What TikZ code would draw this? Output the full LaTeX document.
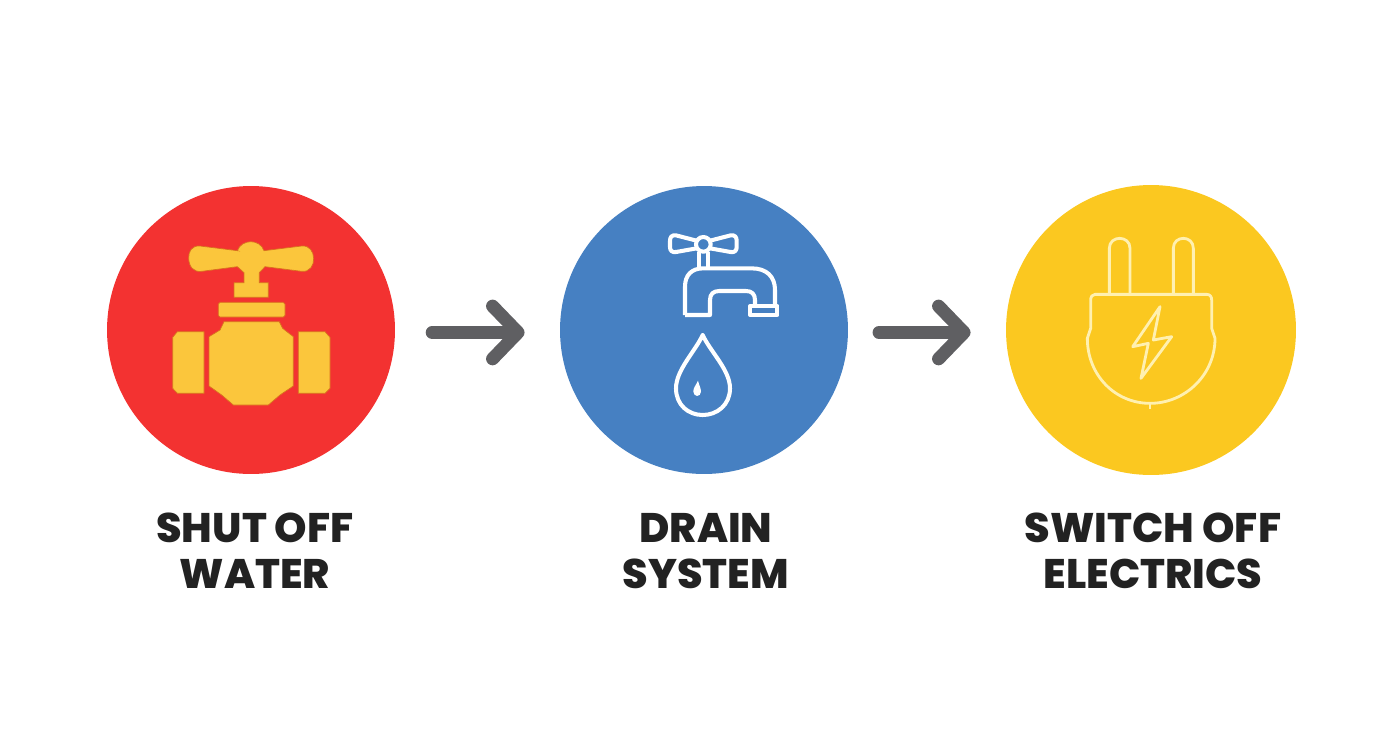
\documentclass[tikz,border=0pt]{standalone}
\usepackage{fontspec}
\setmainfont{Poppins}[BoldFont={Poppins ExtraBold}]
\usepackage{xcolor}
\usetikzlibrary{arrows.meta}
\definecolor{valvered}{HTML}{F33231}
\definecolor{drainblue}{HTML}{4680C2}
\definecolor{plugyellow}{HTML}{FBC820}
\definecolor{valvegold}{HTML}{FBC63C}
\definecolor{valveedge}{HTML}{D9701F}
\definecolor{plugline}{HTML}{FFF0B0}
\definecolor{arrowgrey}{HTML}{5F5F62}
\definecolor{labelblack}{HTML}{222222}
\tikzset{
	stepcircle/.style={circle,minimum size=5.76cm,inner sep=0pt},
	steplabel/.style={align=center,text=labelblack,font=\fontsize{23.5}{26}\selectfont\bfseries},
	steparrow/.style={-{Straight Barb[length=14.5pt,width=30pt,round]},line width=7.4pt,line cap=round,arrowgrey},
	valvepart/.style={fill=valvegold,draw=valveedge,line width=0.4pt},
	tapline/.style={draw=white,line width=2.3pt,line join=round},
	plugpart/.style={draw=plugline,line width=1.6pt,line join=round}
}
\begin{document}
\begin{tikzpicture}[x=0.02cm,y=-0.02cm]
	\useasboundingbox (0,0) rectangle (1392,752);
	\node[stepcircle,fill=valvered] (shutcircle) at (251,330) {};
	\node[stepcircle,fill=drainblue] (draincircle) at (704,330) {};
	\node[stepcircle,fill=plugyellow,minimum size=5.8cm] (switchcircle) at (1151,330) {};
	\draw[steparrow,shorten <=21pt,shorten >=20pt] ([yshift=-1.4pt]shutcircle.east) -- ([yshift=-1.4pt]draincircle.west);
	\draw[steparrow,shorten <=17.5pt,shorten >=20pt] ([yshift=-1.4pt]draincircle.east) -- ([yshift=-1.4pt]switchcircle.west);
	\node[steplabel] (shutlabel) at (255,551) {SHUT OFF\\WATER};
	\node[steplabel] (drainlabel) at (706,551) {DRAIN\\SYSTEM};
	\node[steplabel] (switchlabel) at (1153,551) {SWITCH OFF\\ELECTRICS};
	% valve
	\begin{scope}[shift={(150,220)},scale=1/3]
		\draw[valvepart] (262,92) -- (150,78) .. controls (125,76) and (115,95) .. (116,115) .. controls (117,140) and (130,157) .. (155,154) -- (262,140) -- (282,158) -- (282,188) -- (252,188) -- (252,232) -- (355,232) -- (355,188) -- (328,188) -- (328,158) -- (345,140) -- (455,154) .. controls (480,157) and (492,135) .. (491,115) .. controls (490,95) and (480,76) .. (455,78) -- (342,92) .. controls (330,56) and (275,56) .. cycle;
		\draw[valvepart] (210,247) -- (400,247) -- (405,252) -- (405,286) -- (400,291) -- (210,291) -- (205,286) -- (205,252) -- cycle;
		\draw[valvepart] (222,305) -- (388,305) -- (398,325) -- (430,350) -- (430,498) -- (390,525) -- (355,555) -- (250,555) -- (215,525) -- (177,498) -- (177,350) -- (210,330) -- cycle;
		\draw[valvepart] (68,352) -- (82,335) -- (162,335) -- (162,520) -- (82,520) -- (68,505) -- cycle;
		\draw[valvepart] (445,335) -- (525,335) -- (540,352) -- (540,505) -- (525,520) -- (445,520) -- cycle;
	\end{scope}
	% tap and drop
	\begin{scope}[shift={(640,220)},scale=1/3]
		\draw[tapline] (190,73) circle (22);
		\draw[tapline] (170,62) -- (108,46) .. controls (95,44) and (90,52) .. (90,62) -- (90,82) .. controls (90,92) and (97,98) .. (108,96) -- (170,85);
		\draw[tapline] (210,62) -- (272,46) .. controls (285,44) and (290,52) .. (290,62) -- (290,82) .. controls (290,92) and (283,98) .. (272,96) -- (210,85);
		\draw[tapline] (178,95) -- (178,145);
		\draw[tapline] (205,95) -- (205,145);
		\draw[tapline] (135,285) -- (135,200) .. controls (135,165) and (155,145) .. (190,145) -- (335,145) .. controls (380,145) and (405,170) .. (405,210) -- (405,258);
		\draw[tapline] (135,285) -- (210,285) -- (210,240) .. controls (210,222) and (220,213) .. (238,213) -- (318,213) .. controls (335,213) and (345,222) .. (345,240) -- (345,258);
		\draw[tapline] (330,258) rectangle (412,285);
		\draw[tapline] (188,345) .. controls (165,395) and (108,450) .. (108,505) .. controls (108,555) and (145,585) .. (188,585) .. controls (231,585) and (270,555) .. (270,505) .. controls (270,450) and (211,395) .. cycle;
		\fill[white] (174,482) .. controls (168,495) and (159,505) .. (160,515) .. controls (161,532) and (182,532) .. (183,515) .. controls (183,505) and (177,495) .. cycle;
	\end{scope}
	% plug
	\begin{scope}[shift={(1070,225)},scale=1/3]
		\draw[plugpart] (118,208) -- (118,70) .. controls (118,30) and (180,30) .. (180,70) -- (180,208);
		\draw[plugpart] (310,208) -- (310,70) .. controls (310,30) and (370,30) .. (370,70) -- (370,208);
		\draw[plugpart] (75,208) -- (410,208) .. controls (420,208) and (425,215) .. (425,225) -- (425,310) -- (435,340) .. controls (435,450) and (345,535) .. (240,535) .. controls (135,535) and (52,450) .. (52,340) -- (62,310) -- (62,225) .. controls (62,215) and (67,208) .. (75,208) -- cycle;
		\draw[plugpart] (240,535) -- (240,552);
		\draw[plugpart] (270,245) -- (188,365) -- (235,355) -- (213,460) -- (305,335) -- (250,345) -- cycle;
	\end{scope}
\end{tikzpicture}
\end{document}
